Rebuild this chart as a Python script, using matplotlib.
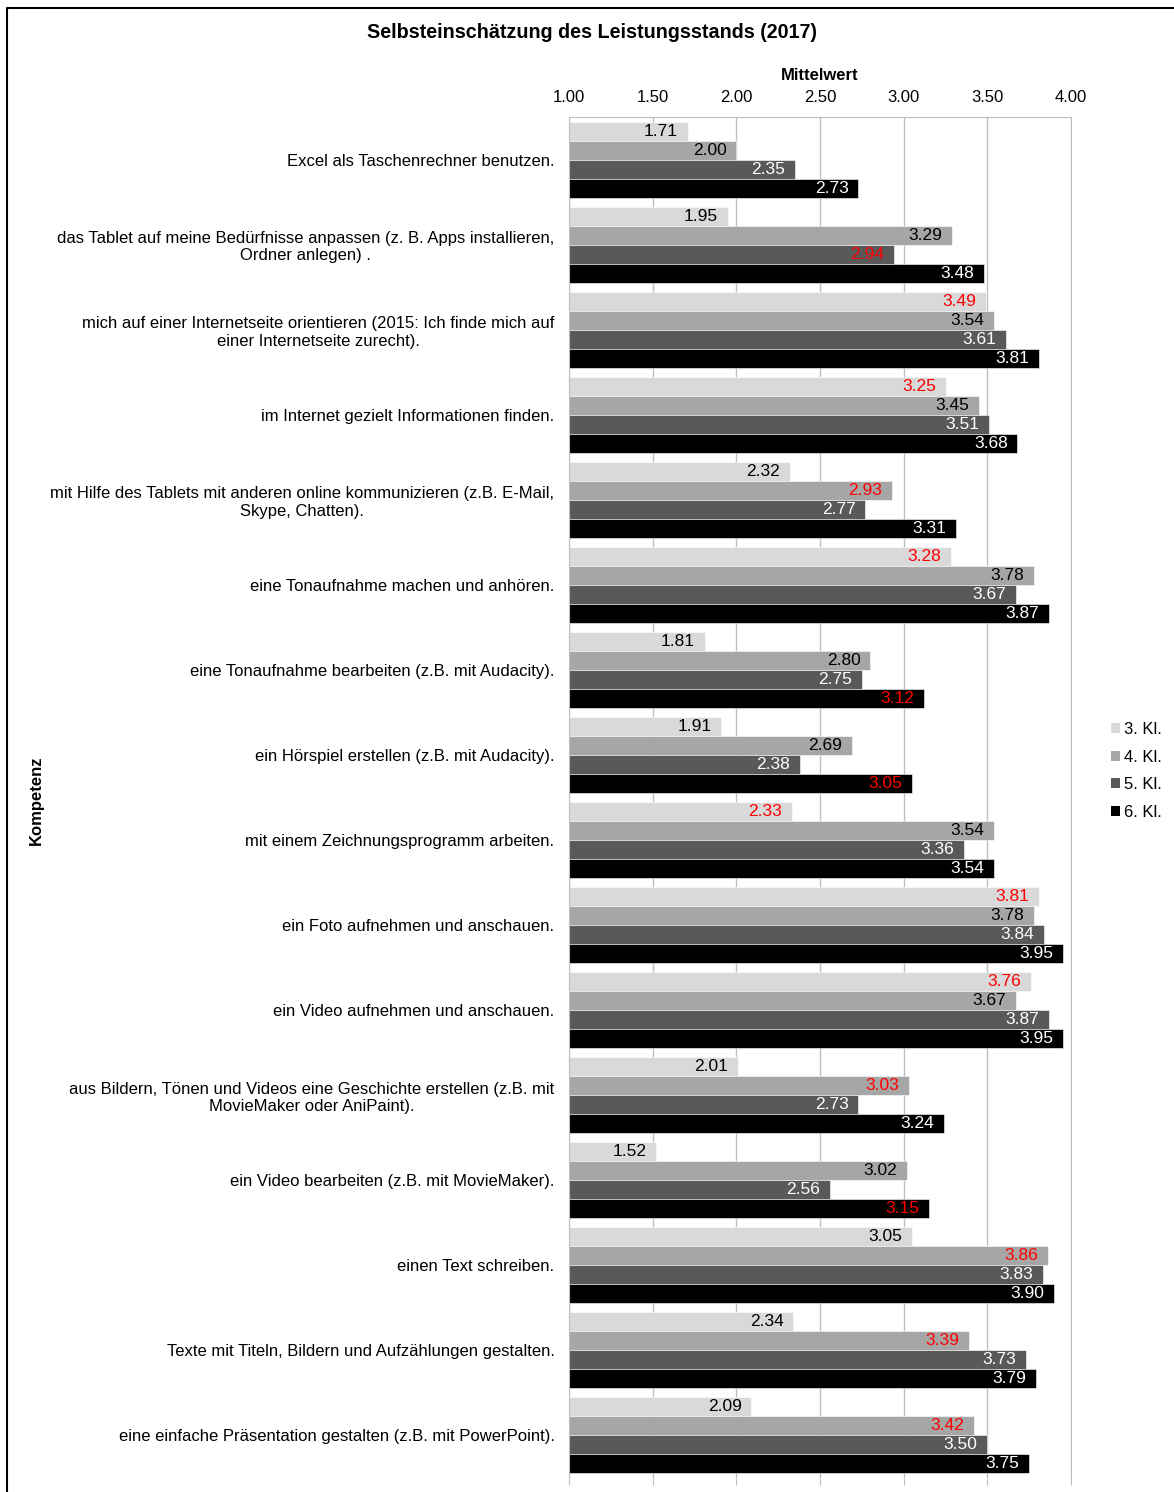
import matplotlib.pyplot as plt
import numpy as np
from matplotlib.patches import Patch
from matplotlib.lines import Line2D

plt.rcParams['font.family'] = ['Liberation Sans', 'DejaVu Sans']

categories = [
    "Excel als Taschenrechner benutzen.",
    "das Tablet auf meine Bedürfnisse anpassen (z. B. Apps installieren,\nOrdner anlegen) .",
    "mich auf einer Internetseite orientieren (2015: Ich finde mich auf\neiner Internetseite zurecht).",
    "im Internet gezielt Informationen finden.",
    "mit Hilfe des Tablets mit anderen online kommunizieren (z.B. E-Mail,\nSkype, Chatten).",
    "eine Tonaufnahme machen und anhören.",
    "eine Tonaufnahme bearbeiten (z.B. mit Audacity).",
    "ein Hörspiel erstellen (z.B. mit Audacity).",
    "mit einem Zeichnungsprogramm arbeiten.",
    "ein Foto aufnehmen und anschauen.",
    "ein Video aufnehmen und anschauen.",
    "aus Bildern, Tönen und Videos eine Geschichte erstellen (z.B. mit\nMovieMaker oder AniPaint).",
    "ein Video bearbeiten (z.B. mit MovieMaker).",
    "einen Text schreiben.",
    "Texte mit Titeln, Bildern und Aufzählungen gestalten.",
    "eine einfache Präsentation gestalten (z.B. mit PowerPoint).",
]

series_names = ["3. Kl.", "4. Kl.", "5. Kl.", "6. Kl."]
kl3 = [1.71, 1.95, 3.49, 3.25, 2.32, 3.28, 1.81, 1.91, 2.33, 3.81, 3.76, 2.01, 1.52, 3.05, 2.34, 2.09]
kl4 = [2.00, 3.29, 3.54, 3.45, 2.93, 3.78, 2.80, 2.69, 3.54, 3.78, 3.67, 3.03, 3.02, 3.86, 3.39, 3.42]
kl5 = [2.35, 2.94, 3.61, 3.51, 2.77, 3.67, 2.75, 2.38, 3.36, 3.84, 3.87, 2.73, 2.56, 3.83, 3.73, 3.50]
kl6 = [2.73, 3.48, 3.81, 3.68, 3.31, 3.87, 3.12, 3.05, 3.54, 3.95, 3.95, 3.24, 3.15, 3.90, 3.79, 3.75]
# which series index is highlighted red in each group (None = none)
red_series = [None, 2, 0, 0, 1, 0, 3, 3, 0, 0, 0, 1, 3, 1, 1, 1]

bar_colors = ["#d9d9d9", "#a6a6a6", "#595959", "#000000"]
text_colors = ["black", "black", "white", "white"]

fig = plt.figure(figsize=(11.74, 14.92), dpi=100)
ax = fig.add_axes([569 / 1174, 1 - 1478 / 1492, 502 / 1174, 1361 / 1492])

series = [kl3, kl4, kl5, kl6]
n = len(categories)
y = np.arange(n)
h = 0.2235
for i, vals in enumerate(series):
    pos = y - 1.5 * h + i * h
    bars = ax.barh(pos, np.array(vals) - 1.0, left=1.0, height=h,
                   color=bar_colors[i], edgecolor='white', linewidth=0.4,
                   label=series_names[i], zorder=2)
    for j, (b, v) in enumerate(zip(bars, vals)):
        col = 'red' if red_series[j] == i else text_colors[i]
        ax.annotate(f"{v:.2f}", xy=(v, pos[j]), xytext=(-7, 0),
                    textcoords='offset points', ha='right', va='center',
                    fontsize=12.5, color=col, zorder=3)

ax.set_xlim(1.0, 4.0)
ax.set_ylim(n - 0.5, -0.5)
ax.set_xticks(np.arange(1.0, 4.01, 0.5))
ax.set_xticklabels([f"{t:.2f}" for t in np.arange(1.0, 4.01, 0.5)])
ax.xaxis.set_label_position('top')
ax.set_xlabel("Mittelwert", fontsize=12, fontweight='bold', labelpad=7)
ax.tick_params(axis='x', top=False, bottom=True, labeltop=True, labelbottom=False,
               length=5, color='#bfbfbf', labelsize=12, pad=4)
ax.set_yticks(y)
ax.set_yticklabels(categories, fontsize=12)
for lab in ax.get_yticklabels():
    lab.set_multialignment('center')
ax.tick_params(axis='y', length=0, pad=10.5)
ax.grid(axis='x', color='#bfbfbf', linewidth=1, zorder=0)
ax.set_axisbelow(True)
for s in ['top', 'right', 'left']:
    ax.spines[s].set_color('#bfbfbf')
ax.spines['bottom'].set_visible(False)

handles = [Patch(facecolor=c, edgecolor='none') for c in bar_colors]
fig.legend(handles, series_names, loc='center left',
           bbox_to_anchor=(1096 / 1174, 1 - 771 / 1492), frameon=False,
           fontsize=12, handlelength=0.55, handleheight=0.55, handletextpad=0.25,
           labelspacing=0.75)

fig.text(592 / 1174, 1 - 33 / 1492, "Selbsteinschätzung des Leistungsstands (2017)",
         ha='center', va='center', fontsize=14.2, fontweight='bold')
fig.text(36 / 1174, 1 - 800 / 1492, "Kompetenz", rotation=90, ha='center',
         va='center', fontsize=12, fontweight='bold')

# outer frame (left and top only, rest is cut off)
fig.add_artist(Line2D([7 / 1174, 7 / 1174, 1], [0, 1 - 8 / 1492, 1 - 8 / 1492],
                      transform=fig.transFigure, color='black', linewidth=1.5))

fig.savefig("out.png", dpi=100)
